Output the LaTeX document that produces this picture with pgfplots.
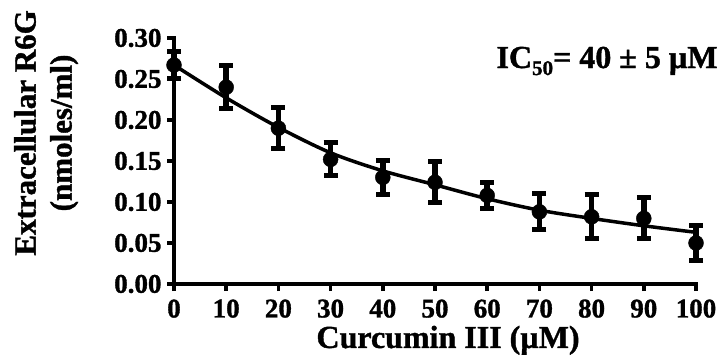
\documentclass[border=0pt]{standalone}
\usepackage{fontspec}
\setmainfont{Liberation Serif}[BoldFeatures={FakeBold=1.2}]
\usepackage{pgfplots}
\pgfplotsset{compat=1.18}

\begin{document}
\begin{tikzpicture}[x=1bp,y=1bp]
\useasboundingbox (0,0) rectangle (724,362);
\begin{axis}[
  at={(174bp,78bp)}, anchor=south west,
  scale only axis, width=522bp, height=246bp,
  xmin=0, xmax=100, ymin=0, ymax=0.30,
  clip=false,
  axis x line=bottom, axis y line=left,
  axis line style={line width=4.5bp, -, line cap=rect},
  tick align=outside,
  major tick length=7bp,
  every tick/.style={black, line width=3.5bp},
  xtick={0,10,...,100},
  ytick={0,0.05,0.10,0.15,0.20,0.25,0.30},
  /pgf/number format/assume math mode=true,
  yticklabel style={/pgf/number format/fixed, /pgf/number format/fixed zerofill,
    /pgf/number format/precision=2, xshift=-2bp},
  xticklabel style={yshift=-5bp},
  tick label style={font=\fontsize{27bp}{28bp}\selectfont\bfseries},
  xlabel={Curcumin III (µM)},
  xlabel style={at={(rel axis cs:0.525,-0.26)}, anchor=base,
    font=\fontsize{32bp}{36bp}\selectfont\bfseries},
  ylabel={Extracellular R6G\\(nmoles/ml)},
  ylabel style={at={(rel axis cs:-0.245,0.614)}, anchor=center, rotate=0,
    align=center, font=\fontsize{31bp}{36bp}\selectfont\bfseries},
]
% measured means with standard deviations
\addplot[black, mark=*, mark size=7.5bp, only marks,
  error bars/.cd, y dir=both, y explicit,
  error bar style={line width=5.5bp, black},
  error mark options={rotate=90, mark size=7bp, line width=5bp, black}]
  table[x=c, y=r, y error=e] {
c   r     e
0   0.267 0.016
10  0.240 0.026
20  0.190 0.025
30  0.152 0.020
40  0.130 0.021
50  0.124 0.025
60  0.108 0.016
70  0.088 0.022
80  0.082 0.027
90  0.080 0.025
100 0.050 0.021
};
% fitted inhibition curve
\addplot[black, line width=3.5bp, smooth, no marks] coordinates {
(0,0.267) (10,0.227) (20,0.191) (30,0.160) (40,0.138) (50,0.121)
(60,0.104) (70,0.090) (80,0.080) (90,0.071) (100,0.063)
};
\node[anchor=base east, font=\fontsize{32bp}{36bp}\selectfont\bfseries]
  at (rel axis cs:1.048,0.878) {IC\raisebox{-0.22em}{\fontsize{21bp}{22bp}\selectfont 50}= 40 ± 5 µM};
\end{axis}
\end{tikzpicture}
\end{document}
